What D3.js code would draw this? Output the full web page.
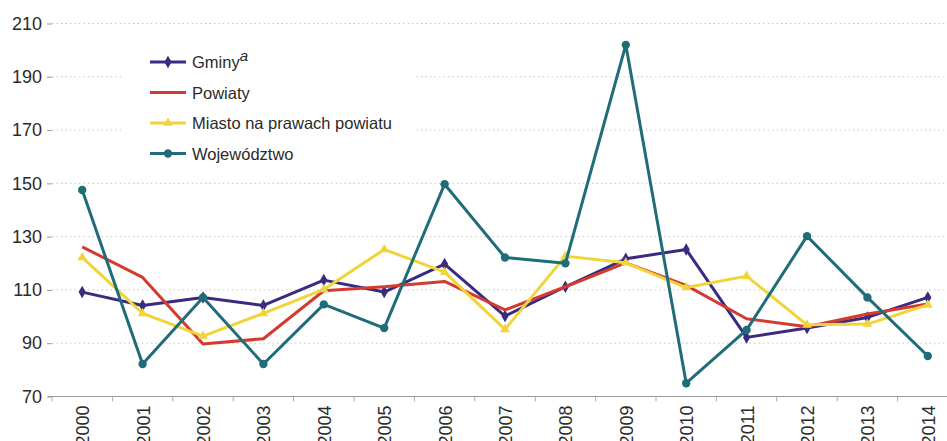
<!DOCTYPE html>
<html>
<head>
<meta charset="utf-8">
<script src="https://cdn.jsdelivr.net/npm/d3@7"></script>
<style>
	body { margin: 0; background: #fff; }
	svg { display: block; font-family: "Liberation Sans", Arial, sans-serif; }
	.grid line { stroke: #c8c8c8; stroke-dasharray: 1.5 3; }
	.axis text { fill: #2a2a2a; }
</style>
</head>
<body>
<svg id="chart" width="947" height="441"></svg>
<script>
// years on the x axis
const years = ['2000', '2001', '2002', '2003', '2004', '2005', '2006', '2007',
	'2008', '2009', '2010', '2011', '2012', '2013', '2014'];

const yTicks = [70, 90, 110, 130, 150, 170, 190, 210];

const gminy = [109, 104, 107, 104, 113.5, 109, 119.5, 100, 111, 121.5, 125, 92, 95.5, 99.5, 107];
const powiaty = [126, 114.5, 89.5, 91.5, 109.5, 111, 113, 102.3, 111, 120, 111.5, 99, 96, 100.8, 104.5];
const miasto = [122, 101, 92.5, 101, 110, 125, 116.5, 95, 122.5, 120, 110.7, 115, 96.7, 97, 104.2];
const wojewodztwo = [147.3, 82, 107, 82, 104.4, 95.5, 149.5, 122, 119.8, 201.8, 74.8, 94.8, 130, 107, 85];

const series = [
	{ name: 'Gminy', sup: 'a', values: gminy, color: '#3a2a80', marker: 'diamond' },
	{ name: 'Powiaty', values: powiaty, color: '#d23b30', marker: null },
	{ name: 'Miasto na prawach powiatu', values: miasto, color: '#f0d43a', marker: 'triangle' },
	{ name: 'Województwo', values: wojewodztwo, color: '#1f6d78', marker: 'circle' }
];

const svg = d3.select('#chart');

const x = d3.scaleBand().domain(years).range([52, 958]);
const y = d3.scaleLinear().domain([70, 210]).range([396, 23]);

// dotted grid
svg.append('g')
	.attr('class', 'grid')
	.selectAll('line')
	.data(yTicks.slice(1))
	.join('line')
	.attr('x1', 52)
	.attr('x2', 947)
	.attr('y1', d => y(d) + 0.5)
	.attr('y2', d => y(d) + 0.5);

// y axis: only short ticks and labels
const yAxis = svg.append('g')
	.attr('class', 'axis')
	.attr('transform', 'translate(52,0.5)')
	.call(d3.axisLeft(y).tickValues(yTicks).tickSize(5).tickPadding(5));
yAxis.select('.domain').remove();
yAxis.selectAll('.tick line').attr('stroke', '#999');
yAxis.selectAll('text').style('font-size', '18px');

// x axis with ticks between bands
const xAxis = svg.append('g')
	.attr('class', 'axis')
	.attr('transform', `translate(0,${y(70) + 0.5})`);
xAxis.append('line')
	.attr('x1', 48)
	.attr('x2', 947)
	.attr('stroke', '#999')
	.attr('stroke-width', 1.2);
xAxis.selectAll('.tk')
	.data(years)
	.join('line')
	.attr('class', 'tk')
	.attr('x1', d => x(d))
	.attr('x2', d => x(d))
	.attr('y1', 0)
	.attr('y2', 5)
	.attr('stroke', '#aaa');
xAxis.selectAll('text')
	.data(years)
	.join('text')
	.attr('transform', d => `translate(${x(d) + x.bandwidth() / 2 + 7},9) rotate(-90)`)
	.attr('text-anchor', 'end')
	.style('font-size', '18px')
	.text(d => d);

const line = d3.line()
	.x((d, i) => x(years[i]) + x.bandwidth() / 2)
	.y(d => y(d));

const symbolFor = {
	diamond: d3.symbol().type(d3.symbolDiamond).size(45),
	triangle: d3.symbol().type(d3.symbolTriangle).size(40),
	circle: d3.symbol().type(d3.symbolCircle).size(55)
};

const plot = svg.append('g');
series.forEach(s => {
	const g = plot.append('g');
	g.append('path')
		.datum(s.values)
		.attr('fill', 'none')
		.attr('stroke', s.color)
		.attr('stroke-width', 3)
		.attr('stroke-linejoin', 'round')
		.attr('d', line);
	if (s.marker) {
		g.selectAll('path.m')
			.data(s.values)
			.join('path')
			.attr('class', 'm')
			.attr('fill', s.color)
			.attr('transform', (d, i) => `translate(${x(years[i]) + x.bandwidth() / 2},${y(d)})`)
			.attr('d', symbolFor[s.marker]);
	}
});

// legend with white box hiding the grid
const legend = svg.append('g');
legend.append('rect')
	.attr('x', 122)
	.attr('y', 42)
	.attr('width', 292)
	.attr('height', 128)
	.attr('fill', '#fff');

const rows = legend.selectAll('g')
	.data(series)
	.join('g')
	.attr('transform', (d, i) => `translate(150,${62 + i * 30.5})`);
rows.append('line')
	.attr('x1', 0)
	.attr('x2', 36)
	.attr('stroke', d => d.color)
	.attr('stroke-width', 3);
rows.filter(d => d.marker)
	.append('path')
	.attr('transform', 'translate(18,0)')
	.attr('fill', d => d.color)
	.attr('d', d => symbolFor[d.marker]());
const labels = rows.append('text')
	.attr('x', 42)
	.attr('y', 6)
	.style('font-size', '16.5px')
	.attr('fill', '#2a2a2a');
labels.append('tspan').text(d => d.name);
labels.filter(d => d.sup)
	.append('tspan')
	.attr('dy', -7)
	.style('font-size', '15px')
	.style('font-style', 'italic')
	.text(d => d.sup);
</script>
</body>
</html>
